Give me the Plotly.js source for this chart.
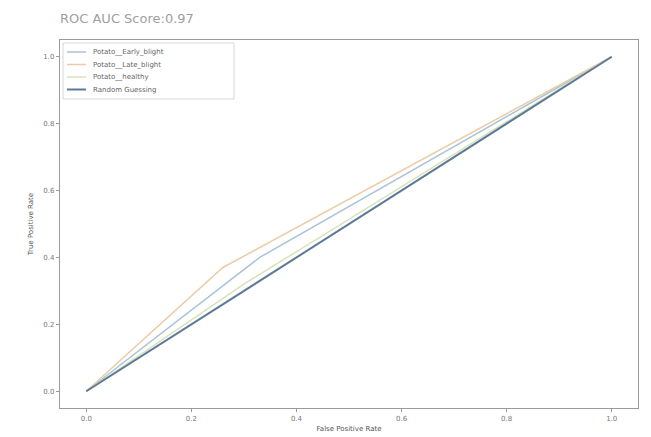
<!DOCTYPE html>
<html><head><meta charset="utf-8">
<script src="https://cdn.plot.ly/plotly-3.0.1.min.js"></script>
<style>body{margin:0;background:#fff}#chart{width:651px;height:437px}</style>
</head><body><div id="chart"></div>
<script>
var seriesNames = ["Potato__Early_blight", "Potato__Late_blight", "Potato__healthy", "Random Guessing"];
var earlyFpr = [0, 0.33, 1];
var earlyTpr = [0, 0.40, 1];
var lateFpr = [0, 0.26, 1];
var lateTpr = [0, 0.37, 1];
var healthyFpr = [0, 0.30, 1];
var healthyTpr = [0, 0.32, 1];
var randomFpr = [0, 1];
var randomTpr = [0, 1];
var xTicks = [0, 0.2, 0.4, 0.6, 0.8, 1.0];
var yTicks = [0, 0.2, 0.4, 0.6, 0.8, 1.0];

var colors = ["#a9c3d8", "#eccca6", "#d8e3b8", "#5c7a98"];
var widths = [1.5, 1.5, 1.5, 2];
var traces = [
  {x: earlyFpr, y: earlyTpr},
  {x: lateFpr, y: lateTpr},
  {x: healthyFpr, y: healthyTpr},
  {x: randomFpr, y: randomTpr}
].map(function(t, i){
  t.mode = "lines"; t.type = "scatter"; t.name = seriesNames[i];
  t.line = {color: colors[i], width: widths[i]}; t.showlegend = false; return t;
});

// plot area in pixels: x 60..638, y 40..408
function px(x){ return (x - 60) / 578; }
function py(y){ return (408 - y) / 368; }

var shapes = [{type: "rect", xref: "paper", yref: "paper",
  x0: px(63), x1: px(234), y0: py(43), y1: py(99),
  line: {color: "#d6d6d6", width: 1}, fillcolor: "rgba(255,255,255,0.85)", layer: "above"}];
var annotations = [];
var rowY = [52, 64.5, 77, 89.5];
seriesNames.forEach(function(n, i){
  shapes.push({type: "line", xref: "paper", yref: "paper",
    x0: px(67), x1: px(86), y0: py(rowY[i]), y1: py(rowY[i]),
    line: {color: colors[i], width: widths[i]}, layer: "above"});
  annotations.push({xref: "paper", yref: "paper", x: px(91), y: py(rowY[i]),
    xanchor: "left", yanchor: "middle", text: n, showarrow: false,
    font: {family: "DejaVu Sans", size: 7, color: "#666"}});
});

var axisCommon = {
  range: [-0.05, 1.05], showgrid: false, zeroline: false,
  showline: true, mirror: true, linecolor: "#9a9a9a", linewidth: 1.2,
  ticks: "outside", ticklen: 3, tickcolor: "#9a9a9a",
  tickfont: {family: "DejaVu Sans", size: 7, color: "#777"},
  tickformat: ".1f"
};
var layout = {
  width: 651, height: 437,
  margin: {l: 60, r: 13, t: 40, b: 29},
  paper_bgcolor: "#fff", plot_bgcolor: "#fff",
  title: {text: "ROC AUC Score:0.97", x: 60/651, xanchor: "left", y: 0.958, yanchor: "middle",
          font: {family: "DejaVu Sans", size: 13, color: "#a0a0a0"}},
  xaxis: Object.assign({}, axisCommon, {tickvals: xTicks,
    title: {text: "False Positive Rate", standoff: 4, font: {family: "DejaVu Sans", size: 7, color: "#555"}}}),
  yaxis: Object.assign({}, axisCommon, {tickvals: yTicks,
    title: {text: "True Positive Rate", standoff: 8, font: {family: "DejaVu Sans", size: 7, color: "#555"}}}),
  showlegend: false,
  shapes: shapes,
  annotations: annotations
};
Plotly.newPlot("chart", traces, layout, {displayModeBar: false, staticPlot: true});
</script></body></html>
